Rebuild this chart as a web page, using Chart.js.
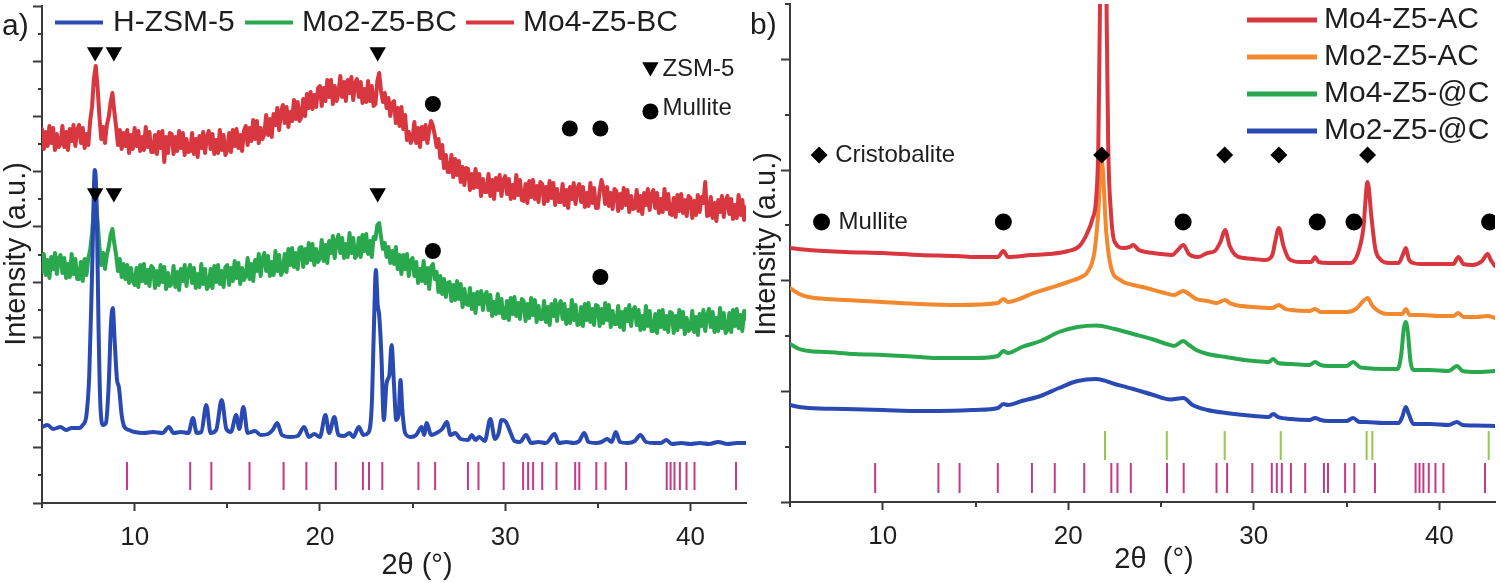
<!DOCTYPE html>
<html>
<head>
<meta charset="utf-8">
<title>XRD patterns</title>
<script src="https://cdn.jsdelivr.net/npm/chart.js@4.4.1/dist/chart.umd.min.js"></script>
<style>
  html, body { margin: 0; padding: 0; background: #fff; }
  #figure { position: relative; width: 1500px; height: 583px; overflow: hidden; }
  #figure canvas { position: absolute; top: 0; }
</style>
</head>
<body>
<div id="figure">
  <canvas id="panelA" width="750" height="583" style="left:0"></canvas>
  <canvas id="panelB" width="750" height="583" style="left:750px"></canvas>
</div>
<script>
// ---------- shared ----------
const xTickLabels = [10, 20, 30, 40];
const xMinorTicks = [5, 15, 25, 35];
const zsmReference = [9.59, 13.0, 14.14, 16.2, 18.04, 19.27, 20.86, 22.32, 22.65, 23.37, 25.32, 26.22,
  27.99, 28.56, 29.92, 30.97, 31.24, 31.51, 32.0, 32.77, 33.78, 34.0, 34.92, 35.42, 36.53,
  38.72, 38.93, 39.14, 39.43, 39.79, 40.22, 42.46];
const cristobaliteReference = [21.98, 25.31, 28.43, 31.45, 36.08, 36.39, 42.66];

// ---------- panel a: BC samples (0.1 deg step scans) ----------
const scanGrid = Array.from({ length: 381 }, (_, i) => (50 + i) / 10);

const mo4BC = [
  376,356,373,359,379,362,377,355,371,358, 361,379,358,373,355,376,364,380,359,375,
  380,362,377,357,371,360,384,398,426,439, 418,388,366,378,362,380,388,402,412,394,
  378,360,375,356,372,359,375,352,370,356, 377,359,374,354,368,355,378,358,373,353,
  353,370,351,373,357,374,343,368,352,372, 371,351,368,354,374,357,372,350,366,353,
  354,372,351,366,348,369,357,373,352,368, 374,356,371,351,365,352,375,355,370,350,
  355,372,353,375,359,376,357,370,354,374, 379,360,377,364,385,366,384,362,377,366,
  371,390,370,386,368,391,380,397,375,393, 400,382,398,378,393,384,405,386,403,384,
  388,406,389,411,397,413,396,410,398,417, 419,399,417,404,425,408,425,401,419,404,
  411,429,408,423,404,425,412,428,405,422, 426,408,423,402,416,403,424,404,419,399,
  401,424,432,414,403,412,397,407,389,402, 404,382,397,379,398,376,390,365,373,362,
  366,383,362,377,358,378,366,380,362,375, 384,379,370,358,366,347,360,337,350,333,
  333,350,328,346,330,344,323,338,320,337, 336,315,331,317,336,318,331,309,326,313,
  313,331,309,325,306,327,315,330,309,325, 329,311,326,306,320,307,330,310,325,305,
  304,321,302,324,308,325,306,319,303,323, 321,301,318,304,324,307,322,300,316,303,
  303,321,300,315,297,318,306,322,301,317, 321,303,318,298,312,299,322,302,317,297,
  297,314,325,317,301,318,299,312,296,316, 314,294,311,297,317,300,315,293,309,296,
  297,315,294,309,291,312,300,316,295,311, 315,297,312,292,306,293,316,296,311,291,
  290,307,288,310,294,311,292,305,289,309, 307,287,304,290,310,293,308,302,323,289,
  290,308,287,302,284,305,293,309,288,304, 309,291,306,286,300,287,310,290,305,285,
  298
];

const mo2BC = [
  233,251,230,245,227,248,236,252,231,247, 250,232,247,227,241,228,251,231,246,226,
  226,243,224,246,230,247,255,272,296,303, 284,258,240,252,236,250,258,270,276,262,
  250,234,246,228,241,226,240,222,237,224, 220,237,218,240,224,241,222,235,219,239,
  237,217,234,220,240,223,238,216,232,219, 221,239,218,233,215,236,224,240,219,235,
  240,222,237,217,231,218,241,221,236,216, 219,236,217,239,223,240,221,234,218,238,
  240,220,237,224,244,227,242,221,237,225, 229,247,226,241,224,245,234,251,229,246,
  252,234,249,229,243,230,254,234,250,230, 234,251,233,256,240,257,238,252,236,257,
  258,238,256,242,262,245,261,240,256,243, 247,265,244,260,242,264,252,269,247,264,
  270,252,267,247,261,248,272,252,267,247, 250,267,248,270,254,271,251,264,248,268,
  266,280,282,268,256,262,248,258,242,254, 241,258,236,250,231,250,236,251,229,244,
  247,229,243,222,236,224,244,222,237,216, 238,241,226,233,213,229,211,226,208,222,
  223,204,220,205,224,206,221,198,216,201, 200,217,196,211,192,213,201,214,195,210,
  213,195,210,189,203,191,211,192,206,187, 187,204,185,207,191,208,189,202,186,206,
  204,184,201,187,207,190,205,183,199,186, 186,204,183,198,180,201,189,205,184,200,
  204,186,201,181,195,182,205,185,200,180, 181,198,179,201,185,202,183,196,180,200,
  199,179,196,182,202,185,200,178,194,181, 181,199,178,193,175,196,184,200,179,195,
  198,180,195,175,189,176,199,179,194,174, 174,191,172,194,178,195,176,189,173,193,
  192,172,189,175,195,178,193,171,187,174, 176,194,173,188,170,191,179,195,174,190,
  196,178,193,173,187,174,197,177,192,172, 175,192,173,195,179,196,177,190,174,194,
  186
];

const hzsmX = [
  5.0, 5.3, 5.6, 6.0, 6.3, 6.6, 7.0, 7.2, 7.4, 7.55,
  7.7, 7.85, 7.95, 8.05, 8.15, 8.3, 8.45, 8.6, 8.72, 8.82,
  8.92, 9.05, 9.15, 9.3, 9.45, 9.7, 10.0, 10.5, 11.0, 11.5,
  11.85, 12.1, 12.5, 12.9, 13.15, 13.35, 13.6, 13.87, 14.1, 14.4,
  14.7, 14.95, 15.2, 15.48, 15.65, 15.87, 16.1, 16.5, 16.8, 17.2,
  17.45, 17.7, 17.95, 18.4, 18.8, 19.15, 19.4, 19.7, 20.0, 20.3,
  20.5, 20.78, 21.0, 21.3, 21.6, 21.8, 22.1, 22.35, 22.6, 22.8,
  22.92, 23.02, 23.12, 23.2, 23.32, 23.45, 23.6, 23.75, 23.87, 24.0,
  24.12, 24.25, 24.35, 24.45, 24.6, 24.9, 25.2, 25.5, 25.62, 25.77,
  26.0, 26.3, 26.6, 26.85, 27.05, 27.3, 27.6, 28.0, 28.2, 28.4,
  28.6, 28.9, 29.2, 29.45, 29.65, 29.8, 30.0, 30.3, 30.5, 30.8,
  31.13, 31.4, 31.8, 32.2, 32.67, 32.9, 33.3, 33.7, 34.0, 34.27,
  34.5, 34.9, 35.2, 35.5, 35.75, 35.97, 36.2, 36.6, 37.0, 37.3,
  37.6, 38.0, 38.4, 38.7, 39.0, 39.5, 40.0, 40.5, 41.0, 41.5,
  42.0, 42.5, 43.0
];
const hzsmY = [
  78, 80, 76, 78, 75, 77, 77, 80, 90, 130,
  230, 335, 300, 180, 100, 80, 82, 120, 180, 197,
  165, 125, 118, 90, 78, 75, 73, 72, 73, 72,
  78, 72, 73, 72, 87, 72, 73, 100, 72, 75,
  105, 76, 73, 90, 76, 98, 72, 74, 70, 71,
  75, 82, 70, 68, 69, 78, 68, 71, 68, 90,
  72, 88, 70, 69, 72, 68, 78, 70, 72, 100,
  180, 235, 200, 190, 150, 85, 122, 130, 160, 120,
  85, 90, 125, 95, 72, 68, 70, 78, 70, 82,
  70, 72, 76, 83, 70, 72, 66, 65, 70, 65,
  68, 64, 86, 66, 72, 85, 84, 72, 64, 63,
  70, 62, 63, 62, 71, 62, 63, 62, 64, 72,
  63, 62, 63, 66, 63, 73, 63, 62, 64, 70,
  63, 62, 62, 65, 61, 62, 61, 62, 61, 63,
  61, 62, 62
];

// phase markers placed above the BC patterns
const zsmPeaksA = [7.87, 8.88, 23.12];
const zsmMarkMo4 = [453, 453, 453];
const zsmMarkMo2 = [312, 312, 312];
const mullitePeaksMo4 = [26.1, 33.49, 35.14];
const mulliteMarkMo4 = [401, 376.5, 376.5];
const mullitePeaksMo2 = [26.1, 35.14];
const mulliteMarkMo2 = [254, 228];

// ---------- panel b: AC and @C samples ----------
const mo4ACx = [
  5, 6, 8, 10, 12, 14, 15, 16.2, 16.5, 16.75,
  18, 19, 20, 20.6, 21.0, 21.3, 21.5, 21.62, 21.72, 21.82,
  21.95, 22.05, 22.15, 22.3, 22.5, 23.0, 23.3, 23.5, 23.8, 24.2,
  25.0, 25.6, 25.9, 26.2, 26.5, 27.0, 27.5, 27.9, 28.2, 28.45,
  28.7, 29.0, 29.5, 30.0, 30.6, 31.0, 31.15, 31.35, 31.6, 31.9,
  32.5, 33.1, 33.3, 33.5, 34.0, 34.6, 35.2, 35.6, 35.9, 36.13,
  36.35, 36.55, 36.8, 37.3, 37.8, 38.05, 38.2, 38.35, 38.6, 39.0,
  39.5, 40.0, 40.75, 41.03, 41.3, 41.8, 42.3, 42.6, 42.8, 43.0
];
const mo4ACy = [
  256, 254, 252, 251, 249, 248, 247, 247, 253, 247,
  249, 250, 253, 258, 270, 285, 305, 360, 520, 700,
  700, 520, 360, 291, 262, 256, 257, 259, 254, 252,
  250, 249, 254, 259, 250, 247, 251, 253, 262, 274,
  258, 249, 246, 245, 244, 249, 262, 276, 258, 245,
  242, 242, 247, 242, 241, 241, 241, 250, 275, 322,
  285, 255, 245, 241, 241, 250, 256, 245, 241, 240,
  240, 240, 240, 247, 240, 239, 243, 250, 243, 238
];
const mo2ACx = [
  5, 5.5, 6, 7, 8, 10, 12, 14, 16.2, 16.5,
  16.75, 17.5, 18, 19, 20, 20.8, 21.0, 21.4, 21.6, 21.8,
  22.05, 22.3, 22.8, 23.5, 24, 25, 25.7, 26.2, 26.5, 26.9,
  27.5, 28, 28.45, 28.7, 29, 30, 31, 31.35, 31.7, 32,
  33, 33.3, 33.6, 34, 35, 35.5, 35.9, 36.13, 36.4, 36.8,
  37.2, 38.0, 38.2, 38.4, 39, 40, 40.75, 41.03, 41.3, 42,
  42.6, 43
];
const mo2ACy = [
  216, 210, 207, 205, 204, 202, 200, 199, 201, 205,
  202, 206, 210, 216, 222, 228, 231, 251, 287, 344,
  271, 237, 224, 219, 217, 212, 209, 213, 210, 205,
  203, 201, 204, 201, 199, 197, 196, 199, 195, 194,
  193, 195, 192, 192, 192, 195, 203, 206, 198, 192,
  190, 190, 195, 189, 189, 188, 188, 191, 187, 187,
  188, 186
];
const mo4Cx = [
  5, 5.5, 6, 7, 8.5, 10, 12, 13, 15, 16.2,
  16.5, 16.75, 17.5, 18.5, 19.5, 20.5, 21.5, 22.5, 23.5, 24.5,
  25.3, 25.7, 26.2, 26.5, 26.9, 27.5, 28.5, 29.5, 30, 30.8,
  31.05, 31.3, 32, 33, 33.3, 33.6, 34, 35, 35.35, 35.7,
  36, 37, 37.75, 37.95, 38.08, 38.19, 38.3, 38.45, 38.6, 39.5,
  40.5, 40.95, 41.25, 42, 43
];
const mo4Cy = [
  160, 155, 153, 152, 150, 149, 147, 146, 146, 148,
  153, 151, 157, 163, 172, 177, 178.5, 175, 170, 165,
  160, 158, 163, 159, 154, 150, 147, 144, 143, 142,
  145, 141, 140, 139, 142, 139, 138, 138, 142, 137,
  136, 135, 135, 150, 175, 182, 172, 142, 134, 134,
  133, 138, 133, 132, 133
];
const mo2Cx = [
  5, 5.5, 6, 8, 10, 12, 13, 15, 16.2, 16.5,
  16.75, 17.5, 18.5, 19.5, 20.5, 21.5, 22.5, 23.5, 24.5, 25.5,
  26.2, 26.7, 27.5, 28.5, 30, 30.8, 31.05, 31.3, 32, 33,
  33.3, 33.6, 34, 35, 35.35, 35.7, 36, 37, 37.8, 38.0,
  38.19, 38.35, 38.6, 39.5, 40.5, 40.95, 41.25, 42, 43
];
const mo2Cy = [
  99, 97, 96, 95, 94, 93, 93, 94, 96, 100,
  99, 103, 108, 116, 123, 125, 120, 115, 109.5, 104.5,
  106, 99, 94, 91, 88, 87, 90, 87, 85, 84,
  86, 84, 83, 83, 86, 82, 82, 81, 81, 87,
  97, 90, 80, 80, 79, 82, 79, 78.5, 78
];

const cristobalitePeaks = [21.8, 28.43, 31.35, 36.13];
const cristobaliteMark = [349, 349, 349, 349];
const mullitePeaksAC = [16.5, 26.19, 33.42, 35.4, 42.71];
const mulliteMarkAC = [282, 282, 282, 282, 282];

// ---------- styling ----------
const FONT = "'Liberation Sans', Arial, Helvetica, sans-serif";
const INK = '#1e1e1e';
const AXIS = '#3a3a3a';
const RED = '#d8373f', GREEN = '#2aa84e', BLUE = '#2a4ab3', ORANGE = '#f2892e';
const STICK = '#c23a83', CRISTO = '#93c94c';

function curve(label, xs, ys, color, width, smooth) {
  return {
    label,
    data: xs.map((x, i) => ({ x, y: ys[i] })),
    showLine: true,
    borderColor: color,
    backgroundColor: color,
    borderWidth: width,
    borderJoinStyle: 'round',
    borderCapStyle: 'round',
    pointRadius: 0,
    cubicInterpolationMode: smooth ? 'monotone' : 'default'
  };
}

function marks(xs, ys, style, radius, rotation) {
  return {
    data: xs.map((x, i) => ({ x, y: ys[i] })),
    showLine: false,
    pointStyle: style,
    pointRadius: radius,
    pointRotation: rotation || 0,
    pointBackgroundColor: '#000',
    pointBorderColor: '#000',
    pointBorderWidth: 0
  };
}

function sticks(xs, y, halfLen, color) {
  return {
    data: xs.map(x => ({ x, y })),
    showLine: false,
    pointStyle: 'line',
    pointRadius: halfLen,
    pointRotation: 90,
    pointBorderColor: color,
    pointBorderWidth: 2
  };
}

function tickValues(from, to, count) {
  const out = [];
  for (let k = 0; k <= count; k++) out.push(from + (to - from) * k / count);
  return out;
}

function drawSymbol(ctx, shape, x, y, r) {
  ctx.beginPath();
  if (shape === 'triangle') {
    ctx.moveTo(x, y + r);
    ctx.lineTo(x - r * 0.866, y - r / 2);
    ctx.lineTo(x + r * 0.866, y - r / 2);
  } else if (shape === 'diamond') {
    ctx.moveTo(x - r, y);
    ctx.lineTo(x, y - r);
    ctx.lineTo(x + r, y);
    ctx.lineTo(x, y + r);
  } else {
    ctx.arc(x, y, r, 0, Math.PI * 2);
  }
  ctx.closePath();
  ctx.fill();
}

// no automatic label padding: the plot box is placed by hand
function noPadding(s) {
  s.paddingLeft = 0; s.paddingRight = 0; s.paddingTop = 0; s.paddingBottom = 0;
}

// minor ticks, legend, symbol keys, titles and panel letter
const decorPlugin = {
  id: 'decor',
  afterDraw(chart, args, o) {
    const { ctx, chartArea: a, scales: { x, y } } = chart;
    ctx.save();

    ctx.strokeStyle = AXIS;
    ctx.lineWidth = 2;
    ctx.beginPath();
    o.minorY.forEach(v => {
      const py = Math.round(y.getPixelForValue(v));
      ctx.moveTo(a.left - o.minorYLen, py);
      ctx.lineTo(a.left, py);
    });
    xMinorTicks.forEach(v => {
      const px = Math.round(x.getPixelForValue(v));
      ctx.moveTo(px, a.bottom);
      ctx.lineTo(px, a.bottom + 5);
    });
    ctx.stroke();

    ctx.textAlign = 'left';
    ctx.textBaseline = 'middle';
    ctx.font = o.legend.size + 'px ' + FONT;
    o.legend.items.forEach(it => {
      const ds = chart.data.datasets.find(d => d.label === it.label);
      ctx.strokeStyle = ds.borderColor;
      ctx.lineWidth = o.legend.lineWidth;
      ctx.beginPath();
      ctx.moveTo(it.x0, it.y);
      ctx.lineTo(it.x1, it.y);
      ctx.stroke();
      ctx.fillStyle = INK;
      ctx.fillText(ds.label, it.tx, it.y);
    });

    ctx.font = o.keySize + 'px ' + FONT;
    o.keys.forEach(k => {
      const px = x.getPixelForValue(k.x);
      const py = y.getPixelForValue(k.y);
      ctx.fillStyle = '#000';
      drawSymbol(ctx, k.shape, px, py, k.r);
      ctx.fillStyle = INK;
      ctx.fillText(k.text, px + k.dx, py + k.dy);
    });

    ctx.font = o.titleSize + 'px ' + FONT;
    ctx.fillStyle = INK;
    ctx.textAlign = 'center';
    ctx.fillText(o.xTitle.text, o.xTitle.x, o.xTitle.y);
    ctx.save();
    ctx.translate(o.yTitle.x, o.yTitle.y);
    ctx.rotate(-Math.PI / 2);
    ctx.fillText(o.yTitle.text, 0, 0);
    ctx.restore();

    ctx.textAlign = 'left';
    ctx.font = o.letter.size + 'px ' + FONT;
    ctx.fillText(o.letter.text, o.letter.x, o.letter.y);
    ctx.restore();
  }
};

function buildChart(id, datasets, p) {
  const allY = tickValues(p.yMin, p.yMax, p.yMajorCount);
  const majorY = allY.filter((_, k) => k % 2 === 0);
  const minorY = allY.filter((_, k) => k % 2 === 1);
  return new Chart(document.getElementById(id), {
    type: 'scatter',
    data: { datasets },
    plugins: [decorPlugin],
    options: {
      responsive: false,
      animation: false,
      devicePixelRatio: 1,
      events: [],
      layout: { padding: p.padding, autoPadding: false },
      scales: {
        x: {
          type: 'linear', min: 5, max: 43,
          afterBuildTicks: s => { s.ticks = xTickLabels.map(v => ({ value: v })); },
          afterFit: s => { s.height = p.xHeight; noPadding(s); },
          border: { display: true, color: AXIS, width: 2 },
          grid: { display: true, drawOnChartArea: false, drawTicks: true, tickLength: 8, tickWidth: 2, tickColor: AXIS },
          ticks: { autoSkip: false, maxRotation: 0, padding: 11, color: INK, font: { family: FONT, size: 26 } }
        },
        y: {
          type: 'linear', min: p.yMin, max: p.yMax,
          afterBuildTicks: s => { s.ticks = majorY.map(v => ({ value: v })); },
          afterFit: s => { s.width = p.yWidth; noPadding(s); },
          border: { display: true, color: AXIS, width: 2 },
          grid: { display: true, drawOnChartArea: false, drawTicks: true, tickLength: 9, tickWidth: 2, tickColor: AXIS },
          ticks: { display: false }
        }
      },
      plugins: {
        legend: { display: false },
        tooltip: { enabled: false },
        decor: Object.assign({ minorY }, p.decor)
      }
    }
  });
}

// ---------- panel a ----------
buildChart('panelA', [
  marks(zsmPeaksA, zsmMarkMo4, 'triangle', 9.5, 180),
  marks(zsmPeaksA, zsmMarkMo2, 'triangle', 9.5, 180),
  marks(mullitePeaksMo4, mulliteMarkMo4, 'circle', 8),
  marks(mullitePeaksMo2, mulliteMarkMo2, 'circle', 8),
  sticks(zsmReference, 29, 14, STICK),
  curve('H-ZSM-5', hzsmX, hzsmY, BLUE, 4, true),
  curve('Mo2-Z5-BC', scanGrid, mo2BC, GREEN, 4, false),
  curve('Mo4-Z5-BC', scanGrid, mo4BC, RED, 4, false)
], {
  padding: { left: 0, right: 4, top: 6, bottom: 0 },
  xHeight: 80, yWidth: 42,
  yMin: 2, yMax: 499, yMajorCount: 18,
  decor: {
    minorYLen: 4,
    legend: {
      size: 30, lineWidth: 4,
      items: [
        { label: 'H-ZSM-5', x0: 55, x1: 103, y: 22.5, tx: 113 },
        { label: 'Mo2-Z5-BC', x0: 245, x1: 293, y: 22.5, tx: 302 },
        { label: 'Mo4-Z5-BC', x0: 466, x1: 514, y: 22.5, tx: 523 }
      ]
    },
    keySize: 24,
    keys: [
      { shape: 'triangle', r: 9.5, x: 37.84, y: 438, text: 'ZSM-5', dx: 12, dy: 2 },
      { shape: 'circle', r: 8, x: 37.84, y: 393.5, text: 'Mullite', dx: 12, dy: -3 }
    ],
    titleSize: 29,
    xTitle: { text: '2θ (°)', x: 417, y: 566 },
    yTitle: { text: 'Intensity (a.u.)', x: 17, y: 254 },
    letter: { text: 'a)', x: 2, y: 27, size: 30 }
  }
});

// ---------- panel b ----------
buildChart('panelB', [
  marks(cristobalitePeaks, cristobaliteMark, 'rectRot', 8.5),
  marks(mullitePeaksAC, mulliteMarkAC, 'circle', 8.5),
  sticks(zsmReference, 26, 15, STICK),
  sticks(cristobaliteReference, 58.5, 14.5, CRISTO),
  curve('Mo4-Z5-AC', mo4ACx, mo4ACy, RED, 4, true),
  curve('Mo2-Z5-AC', mo2ACx, mo2ACy, ORANGE, 4, true),
  curve('Mo4-Z5-@C', mo4Cx, mo4Cy, GREEN, 4, true),
  curve('Mo2-Z5-@C', mo2Cx, mo2Cy, BLUE, 4, true)
], {
  padding: { left: 0, right: 5, top: 4, bottom: 0 },
  xHeight: 81, yWidth: 40,
  yMin: 2, yMax: 500, yMajorCount: 9,
  decor: {
    minorYLen: 5,
    legend: {
      size: 30, lineWidth: 5,
      items: [
        { label: 'Mo4-Z5-AC', x0: 497, x1: 567, y: 20, tx: 574 },
        { label: 'Mo2-Z5-AC', x0: 497, x1: 567, y: 57, tx: 574 },
        { label: 'Mo4-Z5-@C', x0: 497, x1: 567, y: 94, tx: 574 },
        { label: 'Mo2-Z5-@C', x0: 497, x1: 567, y: 131, tx: 574 }
      ]
    },
    keySize: 24,
    keys: [
      { shape: 'diamond', r: 8.5, x: 6.57, y: 349, text: 'Cristobalite', dx: 16, dy: 0 },
      { shape: 'circle', r: 8.5, x: 6.70, y: 282, text: 'Mullite', dx: 17, dy: 0 }
    ],
    titleSize: 29,
    xTitle: { text: '2θ  (°)', x: 404, y: 560 },
    yTitle: { text: 'Intensity (a.u.)', x: 17, y: 244 },
    letter: { text: 'b)', x: 0, y: 26, size: 30 }
  }
});
</script>
</body>
</html>
